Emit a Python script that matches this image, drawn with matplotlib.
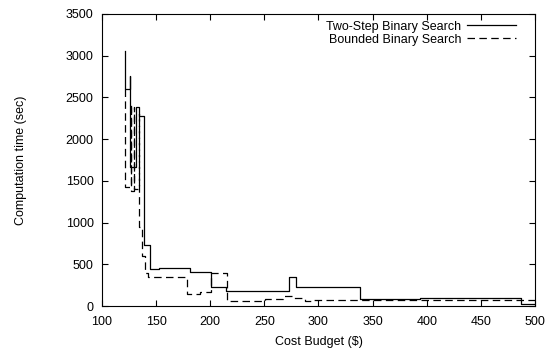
import numpy as np
import matplotlib
matplotlib.use("Agg")
import matplotlib.pyplot as plt

plt.rcParams['font.family'] = ['Liberation Sans', 'DejaVu Sans']

# Two-Step Binary Search (step curve, x = cost budget, y = seconds)
two_step_x = [121.5, 121.5, 126, 126, 131.5, 133.8, 139, 144, 153, 181,
              200.8, 214.3, 272.9, 279, 338, 393.7, 486.7, 500]
two_step_y = [3050, 2600, 2750, 1670, 2390, 2280, 730, 445, 460, 404,
              232, 184, 344, 232, 84, 100, 20, 20]

# Bounded Binary Search
bounded_x = [121, 121, 126.5, 126.5, 130, 130, 134.5, 134.5, 137, 139.5, 143,
             178.5, 190.6, 200.8, 215.6, 251, 267, 276, 283.7, 288, 292.8, 500]
bounded_y = [2600, 1420, 2420, 1380, 2380, 1400, 2300, 950, 600, 400, 350,
             140, 171, 395, 60, 84, 120, 100, 100, 60, 72, 72]

xticks = [100, 150, 200, 250, 300, 350, 400, 450, 500]
yticks = [0, 500, 1000, 1500, 2000, 2500, 3000, 3500]

fig = plt.figure(figsize=(5.51, 3.55), dpi=100)
ax = fig.add_axes([0.185, 0.138, 0.786, 0.823])

ax.plot(two_step_x, two_step_y, drawstyle='steps-post', color='black', lw=0.9,
        label='Two-Step Binary Search')
ax.plot(bounded_x, bounded_y, drawstyle='steps-post', color='black', lw=0.9,
        dashes=(6, 3.5), label='Bounded Binary Search')

ax.set_xlim(100, 500)
ax.set_ylim(0, 3500)
ax.set_xticks(xticks)
ax.set_yticks(yticks)
ax.tick_params(direction='in', top=True, right=True, labelsize=9, length=4)
ax.tick_params(axis='x', pad=7)
ax.tick_params(axis='y', pad=6)
ax.set_xlabel('Cost Budget ($)', fontsize=9, labelpad=6)
ax.set_ylabel('Computation time (sec)', fontsize=9, labelpad=28)

ax.legend(loc='upper right', bbox_to_anchor=(0.965, 0.99), frameon=False,
          markerfirst=False, fontsize=9, handlelength=3.9, handletextpad=0.5,
          labelspacing=0.1, borderaxespad=0.0, borderpad=0.3)

fig.savefig('out.png', dpi=100)
